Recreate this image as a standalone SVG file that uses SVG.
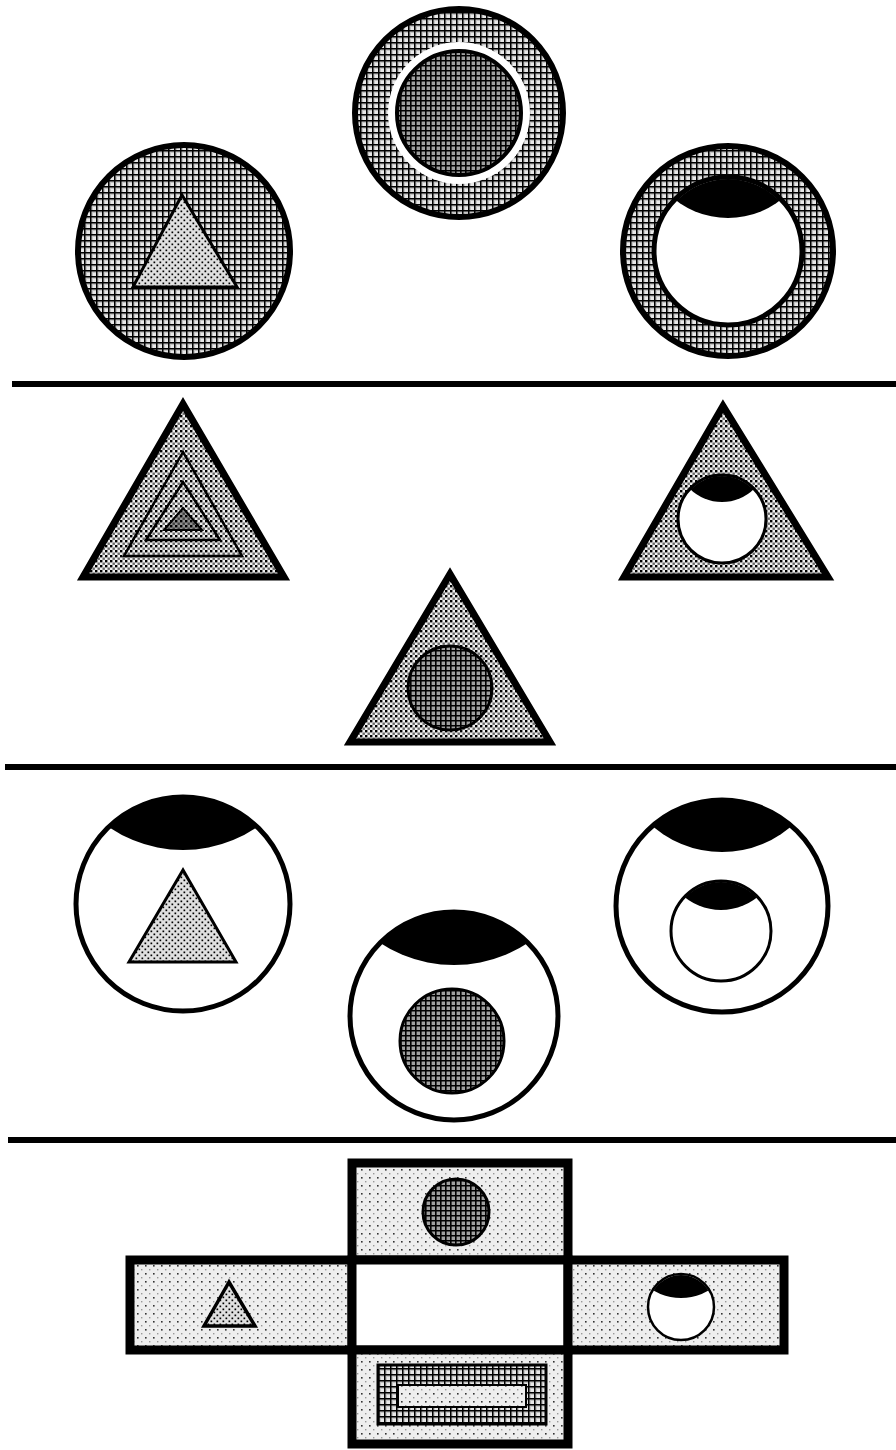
<svg xmlns="http://www.w3.org/2000/svg" width="896" height="1450" viewBox="0 0 896 1450">
<defs>
<pattern id="plaid" width="6" height="6" patternUnits="userSpaceOnUse">
<rect width="6" height="6" fill="#c4c4c4"/>
<rect x="3" y="3" width="3" height="3" fill="#e8e8e8"/>
<path d="M0 0.75H6M0.75 0V6" stroke="#000" stroke-width="1.5"/>
</pattern>
<pattern id="plaidDense" width="5" height="5" patternUnits="userSpaceOnUse">
<rect width="5" height="5" fill="#a0a0a0"/>
<path d="M0 0.8H5M0.8 0V5" stroke="#000" stroke-width="1.6"/>
</pattern>
<pattern id="stipple" width="6" height="6" patternUnits="userSpaceOnUse">
<rect width="6" height="6" fill="#e0e0e0"/>
<rect x="0.5" y="0.5" width="1.7" height="1.7" fill="#000"/>
<rect x="3.5" y="3.5" width="1.7" height="1.7" fill="#000"/>
</pattern>
<pattern id="checker" width="5" height="5" patternUnits="userSpaceOnUse">
<rect width="5" height="5" fill="#f0f0f0"/>
<rect x="0" y="0" width="2.4" height="2.4" fill="#000"/>
<rect x="2.5" y="2.5" width="2.4" height="2.4" fill="#666"/>
</pattern>
<pattern id="light" width="8" height="8" patternUnits="userSpaceOnUse">
<rect width="8" height="8" fill="#eeeeee"/>
<rect x="1" y="1" width="1.6" height="1.6" fill="#333"/>
<rect x="5" y="5" width="1.4" height="1.4" fill="#999"/>
</pattern>
<clipPath id="c1"><circle cx="728" cy="251" r="72"/></clipPath>
<clipPath id="c2"><circle cx="722" cy="519" r="43"/></clipPath>
<clipPath id="c3"><circle cx="183" cy="904" r="106"/></clipPath>
<clipPath id="c4"><circle cx="454" cy="1016" r="103"/></clipPath>
<clipPath id="c5"><circle cx="722" cy="906" r="105"/></clipPath>
<clipPath id="c6"><circle cx="721" cy="931" r="49"/></clipPath>
<clipPath id="c7"><circle cx="681" cy="1307" r="32"/></clipPath>
<style>
.k{stroke:#000;fill:none}
.blk{fill:#000;stroke:none}
</style>
</defs>
<rect width="896" height="1450" fill="#fff"/>

<g id="separators" fill="#000">
<rect x="12" y="381" width="884" height="6"/>
<rect x="5" y="764" width="891" height="6"/>
<rect x="8" y="1137" width="888" height="6"/>
</g>

<!-- Row 1 -->
<g id="r1-left">
<circle cx="184" cy="251" r="106" fill="url(#plaid)" stroke="#000" stroke-width="6"/>
<polygon points="182,195 133,287 237,287" fill="url(#stipple)" stroke="#000" stroke-width="3"/>
</g>
<g id="r1-middle">
<circle cx="459" cy="113" r="104" fill="url(#plaid)" stroke="#000" stroke-width="6"/>
<circle cx="459" cy="113" r="71" fill="#fff"/>
<circle cx="459" cy="113" r="62" fill="url(#plaidDense)" stroke="#000" stroke-width="4"/>
</g>
<g id="r1-right">
<circle cx="728" cy="251" r="105" fill="url(#plaid)" stroke="#000" stroke-width="6"/>
<circle cx="728" cy="251" r="74" fill="#fff" stroke="#000" stroke-width="5"/>
<circle class="blk" cx="728" cy="132" r="86" clip-path="url(#c1)"/>
</g>

<!-- Row 2 -->
<g id="r2-left">
<polygon points="183,404 83,577 284,577" fill="url(#checker)" stroke="#000" stroke-width="7"/>
<polygon points="183,452 124,556 242,556" class="k" stroke-width="2.5"/>
<polygon points="183,482 146,540 220,540" class="k" stroke-width="2.5"/>
<polygon points="183,508 164,530 202,530" fill="#000" fill-opacity="0.4" stroke="#000" stroke-width="2"/>
</g>
<g id="r2-right">
<polygon points="723,406 624,577 828,577" fill="url(#checker)" stroke="#000" stroke-width="7"/>
<circle cx="722" cy="519" r="44" fill="#fff" stroke="#000" stroke-width="3"/>
<circle class="blk" cx="722" cy="456" r="46" clip-path="url(#c2)"/>
</g>
<g id="r2-middle">
<polygon points="450,574 350,742 550,742" fill="url(#checker)" stroke="#000" stroke-width="7"/>
<circle cx="450" cy="688" r="42" fill="url(#plaidDense)" stroke="#000" stroke-width="3"/>
</g>

<!-- Row 3 -->
<g id="r3-left">
<circle cx="183" cy="904" r="107" fill="#fff" stroke="#000" stroke-width="5"/>
<circle class="blk" cx="183" cy="719" r="131" clip-path="url(#c3)"/>
<polygon points="183,870 129,962 236,962" fill="url(#stipple)" stroke="#000" stroke-width="3"/>
</g>
<g id="r3-middle">
<circle cx="454" cy="1016" r="104" fill="#fff" stroke="#000" stroke-width="5"/>
<circle class="blk" cx="454" cy="830" r="135" clip-path="url(#c4)"/>
<circle cx="452" cy="1041" r="52" fill="url(#plaidDense)" stroke="#000" stroke-width="3"/>
</g>
<g id="r3-right">
<circle cx="722" cy="906" r="106" fill="#fff" stroke="#000" stroke-width="5"/>
<circle class="blk" cx="722" cy="746" r="106" clip-path="url(#c5)"/>
<circle cx="721" cy="931" r="50" fill="#fff" stroke="#000" stroke-width="3"/>
<circle class="blk" cx="721" cy="852" r="58" clip-path="url(#c6)"/>
</g>

<!-- Row 4: cross -->
<g id="cross-top">
<rect x="352" y="1163" width="216" height="97" fill="url(#light)" stroke="#000" stroke-width="9"/>
<circle cx="456" cy="1212" r="33" fill="url(#plaidDense)" stroke="#000" stroke-width="3"/>
</g>
<g id="cross-left">
<rect x="130" y="1260" width="222" height="90" fill="url(#light)" stroke="#000" stroke-width="9"/>
<polygon points="229,1282 204,1326 255,1326" fill="url(#stipple)" stroke="#000" stroke-width="3.5"/>
</g>
<g id="cross-center">
<rect x="352" y="1260" width="216" height="90" fill="#fff" stroke="#000" stroke-width="9"/>
</g>
<g id="cross-right">
<rect x="568" y="1260" width="216" height="90" fill="url(#light)" stroke="#000" stroke-width="9"/>
<circle cx="681" cy="1307" r="33" fill="#fff" stroke="#000" stroke-width="2.5"/>
<circle class="blk" cx="681" cy="1244" r="54" clip-path="url(#c7)"/>
</g>
<g id="cross-bottom">
<rect x="352" y="1350" width="216" height="94" fill="url(#light)" stroke="#000" stroke-width="9"/>
<rect x="378" y="1365" width="168" height="59" fill="url(#plaid)" stroke="#000" stroke-width="3"/>
<rect x="398" y="1385" width="128" height="22" fill="url(#light)" stroke="#000" stroke-width="2"/>
</g>
</svg>
